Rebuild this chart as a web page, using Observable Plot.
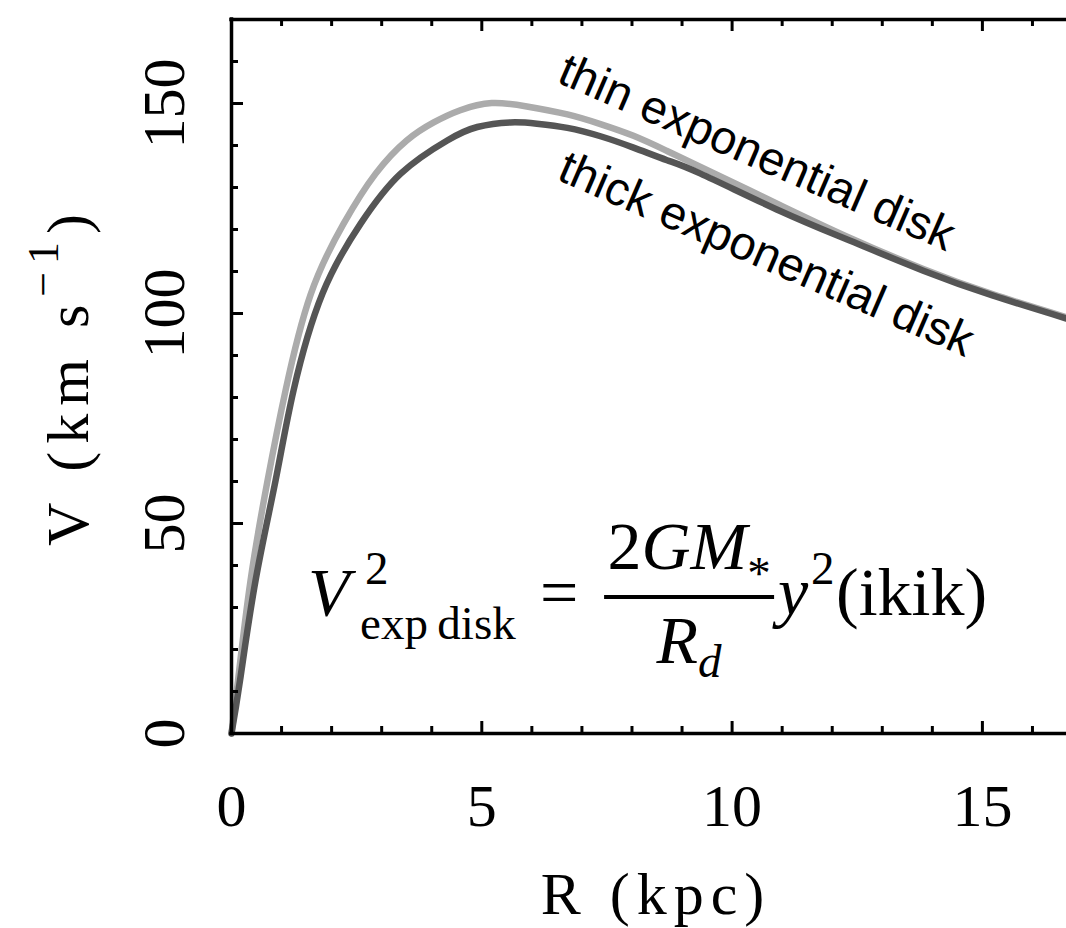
<!DOCTYPE html>
<html>
<head>
<meta charset="utf-8">
<script src="https://cdn.jsdelivr.net/npm/d3@7"></script>
<script src="https://cdn.jsdelivr.net/npm/@observablehq/plot@0.6"></script>
<style>
  html, body { margin: 0; padding: 0; background: #fff; }
  #chart { width: 1066px; height: 928px; overflow: hidden; }
</style>
</head>
<body>
<div id="chart"></div>
<script>
// ---- data ----
const thinR = [0, 0.13, 0.38, 0.72, 1.08, 1.58, 2.24, 2.88, 3.5, 4.04, 4.57, 5.2, 5.9, 6.71, 7.37, 8.03, 8.7, 9.37, 10.96, 12.3, 13.82, 15.2, 16.68];
const thinV = [0, 12.6, 36.4, 60.2, 81.7, 104.5, 121.4, 133.3, 141.2, 145.5, 148.4, 150.1, 149.3, 147.4, 145.1, 142.3, 138.7, 134.9, 125.8, 118.3, 110.6, 104.6, 99.1];
const thickR = [0, 0.17, 0.48, 0.88, 1.24, 1.82, 2.58, 3.38, 4.31, 4.91, 5.57, 6.1, 6.71, 7.37, 8.03, 8.7, 9.37, 10.96, 12.3, 13.82, 15.2, 16.68];
const thickV = [0, 12.6, 36.4, 60.2, 81.7, 104.8, 121.4, 133.3, 141.2, 144.4, 145.5, 145.2, 144.2, 142.2, 139.5, 136.5, 133.3, 124.4, 117.6, 110.2, 104.3, 98.8];

const xMajorTicks = [0, 5, 10, 15];
const xMinorTicks = [1, 2, 3, 4, 6, 7, 8, 9, 11, 12, 13, 14, 16];
const yMajorTicks = [0, 50, 100, 150];
const yMinorTicks = [10, 20, 30, 40, 60, 70, 80, 90, 110, 120, 130, 140, 160];
const xTickLabels = ["0", "5", "10", "15"];
const yTickLabels = ["0", "50", "100", "150"];
const curveNames = ["thin exponential disk", "thick exponential disk"];
const xLabel = "R\u00A0(kpc)";
const yLabelMain = "V\u00A0(km\u00A0s";
const yLabelSup = "\u22121";
const yLabelEnd = ")";

// ---- tables built from the arrays ----
const thin = thinR.map((R, i) => ({R, V: thinV[i]}));
const thick = thickR.map((R, i) => ({R, V: thickV[i]}));
const labelAnchors = [{R: 6.47, V: 155.2}, {R: 6.47, V: 132.0}];
const curveLabels = curveNames.map((t, i) => ({t, ...labelAnchors[i]}));

const W = 1066, H = 928, mL = 231, mR = 0, mT = 19, mB = 195;
const fw = W - mL - mR, fh = H - mT - mB;
const serif = "'Liberation Serif', 'Times New Roman', serif";
const sans = "'Liberation Sans', Arial, sans-serif";

const plot = Plot.plot({
  width: W, height: H,
  marginLeft: mL, marginRight: mR, marginTop: mT, marginBottom: mB,
  x: {domain: [0, 16.68], axis: null},
  y: {domain: [0, 170], axis: null},
  style: {background: "#fff", color: "#000", fontFamily: serif, overflow: "visible"},
  marks: [
    Plot.line(thin, {x: "R", y: "V", stroke: "#ababab", strokeWidth: 6.5, curve: "natural"}),
    Plot.line(thick, {x: "R", y: "V", stroke: "#555555", strokeWidth: 6.5, curve: "natural"}),
    // frame (left, bottom, top)
    Plot.ruleX([0], {stroke: "#000", strokeWidth: 3.5, strokeLinecap: "square"}),
    Plot.ruleY([0, 170], {stroke: "#000", strokeWidth: 3.5, strokeLinecap: "square"}),
    // inward ticks, bottom
    Plot.tickX(xMajorTicks, {x: d => d, insetTop: fh - 12, stroke: "#000", strokeWidth: 3}),
    Plot.tickX(xMinorTicks, {x: d => d, insetTop: fh - 7, stroke: "#000", strokeWidth: 3}),
    // top
    Plot.tickX(xMajorTicks, {x: d => d, insetBottom: fh - 12, stroke: "#000", strokeWidth: 3}),
    Plot.tickX(xMinorTicks, {x: d => d, insetBottom: fh - 7, stroke: "#000", strokeWidth: 3}),
    // left
    Plot.tickY(yMajorTicks, {y: d => d, insetRight: fw - 12, stroke: "#000", strokeWidth: 3}),
    Plot.tickY(yMinorTicks, {y: d => d, insetRight: fw - 7, stroke: "#000", strokeWidth: 3}),
    // tick labels
    Plot.text(xMajorTicks, {x: d => d, text: (d, i) => xTickLabels[i], frameAnchor: "bottom", dy: 92,
      lineAnchor: "bottom", textAnchor: "middle", fontSize: 60, fill: "#000", fontFamily: serif}),
    Plot.text(yMajorTicks, {y: d => d, text: (d, i) => yTickLabels[i], frameAnchor: "left", dx: -48,
      rotate: -90, lineAnchor: "bottom", textAnchor: "middle", fontSize: 60, fill: "#000", fontFamily: serif}),
    // x axis label
    Plot.text([xLabel], {text: d => d, frameAnchor: "bottom", dx: 7, dy: 180, lineAnchor: "bottom",
      textAnchor: "middle", fontSize: 60, fill: "#000", fontFamily: serif}),
    // curve labels
    Plot.text(curveLabels, {x: "R", y: "V", text: "t", rotate: 23.5, textAnchor: "start", lineAnchor: "bottom",
      fontSize: 47, fill: "#000", fontFamily: sans})
  ]
});

document.getElementById("chart").appendChild(plot);

const svg = d3.select(plot);
svg.selectAll("text").filter(function () { return this.textContent === xLabel; }).attr("letter-spacing", 7);

// y axis label with superscript
const yl = svg.append("text")
  .attr("transform", `translate(88,${(mT + H - mB) / 2}) rotate(-90)`)
  .attr("text-anchor", "middle")
  .attr("font-family", serif)
  .attr("font-size", 60)
  .attr("letter-spacing", 8)
  .attr("fill", "#000");
yl.append("tspan").text(yLabelMain);
yl.append("tspan").attr("font-size", 44).attr("dy", -30).text(yLabelSup);
yl.append("tspan").attr("font-size", 60).attr("dy", 30).text(yLabelEnd);

// formula annotation
const sx = plot.scale("x"), sy = plot.scale("y");
const fx = sx.apply(1.54), fy = sy.apply(28.1);   // baseline start of the formula
const F = 68, S = 47;
const g = svg.append("g").attr("font-family", serif).attr("fill", "#000").attr("text-anchor", "start");
function t(x, y, size, str, italic) {
  return g.append("text").attr("x", fx + x).attr("y", fy + y).attr("font-size", size)
    .attr("text-anchor", "start")
    .attr("font-style", italic ? "italic" : "normal").text(str);
}
t(0, 0, F, "V", true);
t(57, -31, S, "2", false);
t(52, 24, S, "exp\u2009disk", false);
t(232, 0, F, "=", false);
g.append("line").attr("x1", fx + 296).attr("x2", fx + 466).attr("y1", fy - 18).attr("y2", fy - 18)
  .attr("stroke", "#000").attr("stroke-width", 4);
const num = g.append("text").attr("x", fx + 381).attr("y", fy - 46).attr("font-size", F).attr("text-anchor", "middle");
num.append("tspan").text("2");
num.append("tspan").attr("font-style", "italic").text("GM");
num.append("tspan").attr("font-size", S).attr("dy", 20).text("*");
const den = g.append("text").attr("x", fx + 381).attr("y", fy + 48).attr("font-size", F).attr("text-anchor", "middle");
den.append("tspan").attr("font-style", "italic").text("R");
den.append("tspan").attr("font-style", "italic").attr("font-size", S).attr("dy", 14).text("d");
t(470, 0, F, "y", true);
t(503, -31, S, "2", false);
t(528, 0, F, "(ikik)", false);
</script>
</body>
</html>
